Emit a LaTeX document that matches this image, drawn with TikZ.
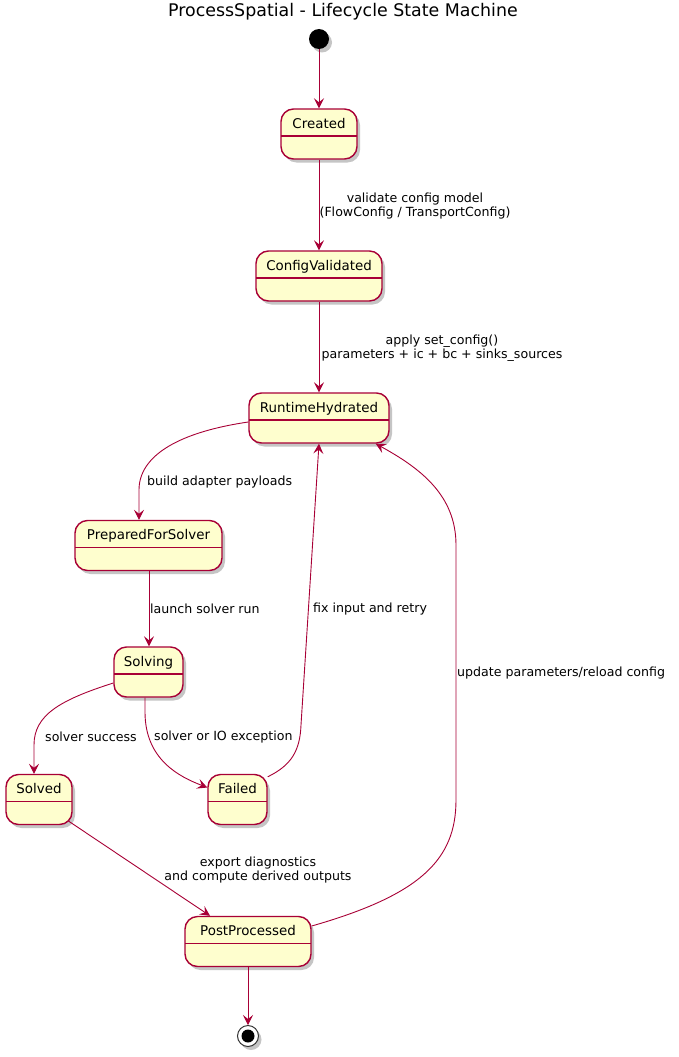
\documentclass[tikz,border=0pt]{standalone}
\usepackage{fontspec}
\setmainfont{DejaVu Sans}
\usetikzlibrary{arrows.meta,shadows}
\definecolor{pborder}{HTML}{A80036}
\definecolor{pfill}{HTML}{FEFECE}
\begin{document}
\begin{tikzpicture}[x=1pt,y=-1pt,
  pshadow/.style={drop shadow={shadow xshift=3pt,shadow yshift=-3.5pt,fill=black!45,opacity=0.5}},
  stbox/.style={draw=pborder, line width=1.4pt, fill=pfill, rounded corners=12.5pt,
    inner sep=0pt, minimum height=50pt, text height=19pt, text depth=31pt,
    font=\fontsize{13.4}{15}\selectfont, pshadow,
    path picture={\draw[pborder, line width=1.3pt]
      ([yshift=-27pt]path picture bounding box.north west) --
      ([yshift=-27pt]path picture bounding box.north east);}},
  lbl/.style={font=\fontsize{12.6}{14}\selectfont, align=center, inner sep=0pt},
  conn/.style={draw=pborder, line width=0.9pt, -{Stealth[length=10pt,width=10pt,inset=4pt]}}]
\path[use as bounding box, fill=white] (0,0) rectangle (678,1057);

\node[font=\fontsize{17.4}{20}\selectfont, inner sep=0pt] (title) at (343,12) {ProcessSpatial - Lifecycle State Machine};

\node[circle, fill=black, minimum size=20pt, inner sep=0pt, pshadow] (start) at (319,39) {};
\node[stbox, minimum width=76pt] (created) at (319,134) {Created};
\node[stbox, minimum width=126pt] (cfg) at (319,276) {ConfigValidated};
\node[stbox, minimum width=140pt] (rh) at (319,418) {RuntimeHydrated};
\node[stbox, minimum width=147pt] (pfs) at (148.5,545.5) {PreparedForSolver};
\node[stbox, minimum width=69pt] (solving) at (148.5,672) {Solving};
\node[stbox, minimum width=66pt] (solved) at (39,799.5) {Solved};
\node[stbox, minimum width=59pt] (failed) at (237.5,799.5) {Failed};
\node[stbox, minimum width=126pt] (post) at (248,941.5) {PostProcessed};
\node[circle, draw=black!80, fill=white, line width=1pt, minimum size=21pt, inner sep=0pt, pshadow,
  path picture={\fill[black] (path picture bounding box.center) circle (6.5pt);}] (stop) at (248,1036) {};

% labels
\node[lbl] (l1) at (415,206) {validate config model\\(FlowConfig / TransportConfig)};
\node[lbl] (l2) at (442,348) {apply set\_config()\\parameters + ic + bc + sinks\_sources};
\node[lbl, anchor=west] (l3) at (147,482) {build adapter payloads};
\node[lbl, anchor=west] (l4) at (150,609) {launch solver run};
\node[lbl, anchor=west] (l5) at (313,609) {fix input and retry};
\node[lbl, anchor=west] (l6) at (457,673) {update parameters/reload config};
\node[lbl, anchor=west] (l7) at (45,737) {solver success};
\node[lbl, anchor=west] (l8) at (154,737) {solver or IO exception};
\node[lbl] (l9) at (258,870) {export diagnostics\\and compute derived outputs};

% connectors
\draw[conn] (start) -- (created);
\draw[conn] (created) -- (cfg);
\draw[conn] (cfg) -- (rh);
\draw[conn] ([yshift=-4pt]rh.west) .. controls (180,432) and (139,455) .. (139,490) -- ([xshift=-9.5pt]pfs.north);
\draw[conn] ([xshift=0.5pt]pfs.south) -- ([xshift=0.5pt]solving.north);
\draw[conn] ([yshift=-11pt]solving.west) .. controls (60,700) and (34,715) .. (34,745) -- ([xshift=-5pt]solved.north);
\draw[conn] ([xshift=-3.5pt]solving.south) -- (145,712) .. controls (145,760) and (180,777) .. ([yshift=12pt]failed.west);
\draw[conn] ([yshift=-3pt]failed.north east) .. controls (292,765) and (300,750) .. (301,725) -- (rh.south);
\draw[conn] ([yshift=15.5pt]post.east) .. controls (420,895) and (456,860) .. (456,800) -- (456,545) .. controls (456,495) and (420,468) .. ([xshift=-14pt]rh.south east);
\draw[conn] ([xshift=-4pt,yshift=4pt]solved.south east) -- ([xshift=-38pt]post.north);
\draw[conn] (post) -- (stop);
\end{tikzpicture}
\end{document}
